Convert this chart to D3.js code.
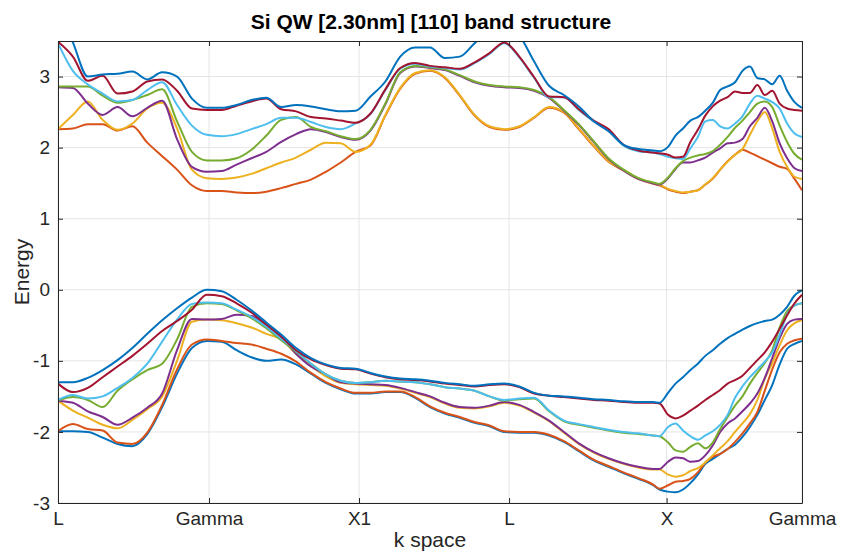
<!DOCTYPE html>
<html><head><meta charset="utf-8">
<script src="https://cdn.jsdelivr.net/npm/d3@7"></script>
<style>body{margin:0;background:#fff}svg{display:block}</style>
</head><body>
<svg id="chart" width="842" height="553"></svg>
<script>
// ---- data ----
const kGrid = [0,0.02,0.04,0.06,0.08,0.10,0.12,0.14,0.16,0.18,0.20,0.22,0.24,0.26,0.28,0.30,0.32,0.34,0.36,0.38,0.40,
  0.42,0.44,0.46,0.48,0.50,0.52,0.54,0.56,0.58,0.60,0.62,0.64,0.66,0.68,0.70,0.72,0.74,0.76,0.78,0.80,0.8085,
  0.82,0.83,0.84,0.85,0.86,0.87,0.88,0.89,0.90,0.91,0.92,0.93,0.94,0.95,0.96,0.97,0.98,0.99,1.0];
const kTickPos = [0, 0.2030, 0.4046, 0.6063, 0.8180, 1.0];
const kTickLabels = ["L","Gamma","X1","L","X","Gamma"];
const energyTicks = [-3,-2,-1,0,1,2,3];
const energyRange = [-3, 3.5];

// valence bands (lowest first)
const band01 = [-1.99,-1.99,-2.00,-2.08,-2.17,-2.20,-2.03,-1.65,-1.18,-0.82,-0.72,
  -0.73,-0.85,-0.95,-1.00,-0.98,-1.05,-1.18,-1.31,-1.40,-1.46,
  -1.46,-1.44,-1.44,-1.52,-1.65,-1.74,-1.80,-1.87,-1.92,-2.00,
  -2.01,-2.01,-2.05,-2.14,-2.27,-2.40,-2.49,-2.58,-2.66,-2.75,-2.81,
  -2.84,-2.85,-2.81,-2.72,-2.60,-2.45,-2.38,-2.31,-2.24,
  -2.18,-2.07,-1.93,-1.76,-1.55,-1.34,-1.05,-0.83,-0.76,-0.72];
const band02 = [-1.99,-1.89,-1.96,-1.98,-2.15,-2.17,-2.01,-1.62,-1.12,-0.77,-0.70,
  -0.72,-0.75,-0.77,-0.83,-0.90,-1.01,-1.17,-1.30,-1.39,-1.45,
  -1.45,-1.43,-1.43,-1.51,-1.64,-1.73,-1.79,-1.86,-1.91,-1.99,
  -2.00,-2.00,-2.04,-2.13,-2.26,-2.39,-2.48,-2.57,-2.65,-2.74,-2.80,
  -2.75,-2.70,-2.69,-2.66,-2.57,-2.43,-2.35,-2.31,-2.24,
  -2.14,-2.02,-1.88,-1.72,-1.42,-1.12,-0.88,-0.76,-0.71,-0.69];
const band03 = [-1.56,-1.70,-1.80,-1.90,-1.95,-1.83,-1.68,-1.50,-1.00,-0.45,-0.42,
  -0.43,-0.47,-0.53,-0.62,-0.70,-0.90,-1.07,-1.22,-1.31,-1.33,
  -1.34,-1.35,-1.39,-1.45,-1.51,-1.60,-1.66,-1.67,-1.64,-1.59,
  -1.63,-1.73,-1.85,-2.01,-2.17,-2.29,-2.38,-2.45,-2.50,-2.53,-2.53,
  -2.60,-2.63,-2.61,-2.55,-2.51,-2.43,-2.33,-2.23,-2.13,
  -2.00,-1.88,-1.75,-1.55,-1.25,-1.03,-0.78,-0.57,-0.47,-0.43];
const band04 = [-1.56,-1.59,-1.71,-1.79,-1.90,-1.80,-1.66,-1.46,-0.85,-0.41,-0.42,
  -0.41,-0.35,-0.37,-0.50,-0.66,-0.90,-1.08,-1.19,-1.30,-1.32,
  -1.33,-1.34,-1.38,-1.44,-1.50,-1.59,-1.65,-1.66,-1.63,-1.58,
  -1.62,-1.72,-1.84,-2.00,-2.16,-2.28,-2.37,-2.44,-2.49,-2.52,-2.52,
  -2.42,-2.36,-2.37,-2.42,-2.41,-2.33,-2.19,-2.00,-1.88,
  -1.81,-1.71,-1.60,-1.46,-1.24,-0.96,-0.68,-0.48,-0.42,-0.41];
const band05 = [-1.56,-1.51,-1.55,-1.65,-1.42,-1.26,-1.13,-1.04,-0.70,-0.24,-0.19,
  -0.20,-0.29,-0.40,-0.54,-0.71,-0.87,-1.04,-1.19,-1.28,-1.31,
  -1.30,-1.28,-1.29,-1.30,-1.33,-1.37,-1.39,-1.42,-1.50,-1.56,
  -1.54,-1.53,-1.71,-1.85,-1.90,-1.94,-1.98,-2.01,-2.03,-2.05,-2.06,
  -2.15,-2.26,-2.28,-2.21,-2.16,-2.23,-2.15,-1.96,-1.79,
  -1.63,-1.50,-1.32,-1.17,-1.03,-0.85,-0.53,-0.30,-0.22,-0.19];
const band06 = [-1.55,-1.48,-1.53,-1.50,-1.38,-1.24,-1.04,-0.73,-0.42,-0.20,-0.18,
  -0.19,-0.28,-0.38,-0.52,-0.69,-0.86,-1.04,-1.19,-1.28,-1.31,
  -1.30,-1.28,-1.29,-1.30,-1.33,-1.37,-1.39,-1.42,-1.50,-1.55,
  -1.53,-1.52,-1.70,-1.84,-1.89,-1.93,-1.97,-2.00,-2.02,-2.05,-2.06,
  -1.93,-1.88,-1.98,-2.06,-2.11,-2.05,-1.99,-1.90,-1.76,
  -1.52,-1.36,-1.23,-1.12,-1.01,-0.88,-0.63,-0.35,-0.22,-0.19];
const band07 = [-1.32,-1.44,-1.38,-1.23,-1.08,-0.93,-0.76,-0.58,-0.44,-0.28,-0.07,
  -0.09,-0.19,-0.32,-0.49,-0.66,-0.85,-0.98,-1.06,-1.11,-1.12,
  -1.18,-1.23,-1.26,-1.27,-1.29,-1.32,-1.34,-1.36,-1.34,-1.33,
  -1.37,-1.46,-1.49,-1.51,-1.53,-1.55,-1.56,-1.58,-1.59,-1.59,-1.60,
  -1.76,-1.81,-1.77,-1.70,-1.63,-1.55,-1.48,-1.41,-1.32,
  -1.27,-1.21,-1.10,-0.99,-0.88,-0.73,-0.55,-0.36,-0.19,-0.07];
const band08 = [-1.30,-1.30,-1.24,-1.13,-0.99,-0.82,-0.62,-0.43,-0.26,-0.11,0.00,
  -0.02,-0.14,-0.29,-0.46,-0.63,-0.82,-0.96,-1.05,-1.10,-1.11,
  -1.17,-1.22,-1.25,-1.26,-1.28,-1.31,-1.33,-1.35,-1.33,-1.32,
  -1.36,-1.45,-1.49,-1.50,-1.52,-1.54,-1.55,-1.57,-1.58,-1.58,-1.59,
  -1.45,-1.32,-1.23,-1.13,-1.04,-0.93,-0.85,-0.76,-0.68,
  -0.62,-0.56,-0.51,-0.47,-0.44,-0.42,-0.35,-0.24,-0.08,-0.01];
// conduction bands (lowest first)
const band09 = [2.26,2.27,2.33,2.33,2.24,2.30,2.07,1.88,1.69,1.47,1.39,
  1.39,1.37,1.36,1.38,1.43,1.49,1.55,1.66,1.79,1.94,
  2.03,2.45,2.83,3.04,3.08,2.98,2.73,2.45,2.29,2.25,
  2.29,2.42,2.56,2.49,2.26,2.02,1.80,1.68,1.56,1.49,1.47,
  1.41,1.38,1.36,1.38,1.40,1.48,1.56,1.69,1.81,
  1.90,1.97,1.93,1.88,1.83,1.78,1.73,1.70,1.56,1.40];
const band10 = [2.26,2.46,2.65,2.39,2.25,2.34,2.55,2.63,2.27,1.69,1.57,
  1.56,1.58,1.63,1.71,1.79,1.86,1.97,2.07,2.06,1.94,
  2.04,2.46,2.84,3.05,3.09,2.99,2.74,2.46,2.30,2.26,
  2.30,2.43,2.57,2.50,2.27,2.03,1.81,1.69,1.57,1.50,1.48,
  1.42,1.39,1.37,1.38,1.40,1.48,1.57,1.69,1.80,
  1.90,1.98,2.18,2.37,2.50,2.27,1.94,1.73,1.59,1.56];
const band11 = [2.85,2.84,2.62,2.46,2.57,2.44,2.56,2.66,2.12,1.73,1.66,
  1.67,1.76,1.85,1.94,2.08,2.19,2.26,2.22,2.15,2.11,
  2.24,2.61,3.05,3.14,3.12,3.09,3.01,2.92,2.87,2.85,
  2.84,2.80,2.70,2.52,2.32,2.08,1.84,1.68,1.56,1.50,1.48,
  1.57,1.70,1.79,1.79,1.82,1.86,1.93,1.99,2.06,
  2.07,2.12,2.30,2.42,2.56,2.37,2.06,1.85,1.71,1.67];
const band12 = [2.86,2.86,2.86,2.73,2.63,2.67,2.74,2.82,2.37,1.94,1.82,
  1.82,1.85,1.97,2.17,2.39,2.43,2.29,2.23,2.16,2.12,
  2.25,2.62,3.06,3.15,3.13,3.10,3.02,2.93,2.88,2.86,
  2.85,2.81,2.71,2.53,2.33,2.09,1.85,1.69,1.57,1.51,1.49,
  1.58,1.71,1.81,1.86,1.89,1.91,1.95,2.04,2.15,
  2.28,2.38,2.50,2.62,2.65,2.57,2.31,2.08,1.91,1.83];
const band13 = [3.47,3.08,2.89,2.76,2.65,2.67,2.81,2.92,2.60,2.31,2.18,
  2.16,2.19,2.26,2.33,2.42,2.42,2.36,2.29,2.26,2.34,
  2.47,2.81,3.11,3.18,3.14,3.12,3.10,3.19,3.32,3.47,
  3.27,2.98,2.71,2.71,2.53,2.37,2.25,2.03,1.95,1.93,1.91,
  1.87,1.85,1.84,1.99,2.15,2.37,2.39,2.30,2.27,
  2.34,2.44,2.62,2.73,2.69,2.64,2.55,2.34,2.20,2.15];
const band14 = [3.49,3.28,2.94,3.01,2.76,2.79,2.93,2.96,2.80,2.55,2.53,
  2.53,2.59,2.65,2.69,2.54,2.51,2.43,2.41,2.38,2.35,
  2.48,2.82,3.12,3.19,3.15,3.13,3.11,3.20,3.33,3.48,
  3.28,2.99,2.72,2.71,2.54,2.38,2.26,2.04,1.96,1.93,1.92,
  1.90,1.86,1.87,2.08,2.25,2.45,2.58,2.66,2.71,
  2.79,2.77,2.77,2.88,2.74,2.80,2.62,2.55,2.53,2.52];
const band15 = [3.95,3.48,3.00,3.03,3.04,3.07,2.96,3.06,3.00,2.69,2.56,
  2.56,2.60,2.67,2.70,2.57,2.60,2.58,2.54,2.51,2.52,
  2.72,2.93,3.28,3.41,3.41,3.26,3.28,3.47,3.65,3.72,
  3.58,3.21,2.87,2.74,2.58,2.37,2.23,2.04,1.98,1.96,1.95,
  2.01,2.17,2.27,2.38,2.43,2.52,2.63,2.81,2.86,
  2.92,3.08,3.14,2.98,2.96,2.89,3.01,2.80,2.64,2.56];

const bands = [band01,band02,band03,band04,band05,band06,band07,band08,
               band09,band10,band11,band12,band13,band14,band15];
const colorOrder = ["#0072BD","#D95319","#EDB120","#7E2F8E","#77AC30","#4DBEEE","#A2142F"];
const titleText = "Si QW [2.30nm] [110] band structure";
const xLabelText = "k space";
const yLabelText = "Energy";

// ---- layout ----
const W = 842, H = 553;
const m = {left: 58, right: 842-802, top: 41, bottom: 553-503};
const svg = d3.select("#chart");
const iw = W - m.left - m.right, ih = H - m.top - m.bottom;
const x = d3.scaleLinear().domain([0,1]).range([m.left, m.left+iw]);
const y = d3.scaleLinear().domain(energyRange).range([m.top+ih, m.top]);
const font = "'Liberation Sans', Arial, Helvetica, sans-serif";
const axisColor = "#262626";

// grid
const grid = svg.append("g");
grid.selectAll("line.vx").data(kTickPos).join("line")
  .attr("x1", d=>x(d)).attr("x2", d=>x(d)).attr("y1", m.top).attr("y2", m.top+ih)
  .attr("stroke", "#e5e5e5").attr("stroke-width", 1);
grid.selectAll("line.hy").data(energyTicks).join("line")
  .attr("y1", d=>y(d)).attr("y2", d=>y(d)).attr("x1", m.left).attr("x2", m.left+iw)
  .attr("stroke", "#e5e5e5").attr("stroke-width", 1);

// clip
svg.append("clipPath").attr("id","clip").append("rect")
  .attr("x", m.left).attr("y", m.top).attr("width", iw).attr("height", ih);

const line = d3.line().x((d,i)=>x(kGrid[i])).y(d=>y(d)).curve(d3.curveMonotoneX);
svg.append("g").attr("clip-path","url(#clip)")
  .selectAll("path").data(bands).join("path")
  .attr("d", d=>line(d))
  .attr("fill","none")
  .attr("stroke", (d,i)=>colorOrder[i % colorOrder.length])
  .attr("stroke-width", 2)
  .attr("stroke-linejoin","round");

// axes (MATLAB style box, ticks inward)
const tickLen = 5;
const axB = d3.axisBottom(x).tickValues(kTickPos).tickFormat((d,i)=>kTickLabels[i]).tickSizeInner(-tickLen).tickSizeOuter(0).tickPadding(9);
const axT = d3.axisTop(x).tickValues(kTickPos).tickFormat("").tickSizeInner(-tickLen).tickSizeOuter(0);
const axL = d3.axisLeft(y).tickValues(energyTicks).tickFormat(d3.format("d")).tickSizeInner(-tickLen).tickSizeOuter(0).tickPadding(8);
const axR = d3.axisRight(y).tickValues(energyTicks).tickFormat("").tickSizeInner(-tickLen).tickSizeOuter(0);

function style(g){
  g.select(".domain").attr("stroke", axisColor).attr("stroke-width", 1);
  g.selectAll(".tick line").attr("stroke", axisColor);
  g.selectAll(".tick text").attr("fill", axisColor).style("font-family", font).style("font-size","19px");
}
svg.append("g").attr("transform",`translate(0,${m.top+ih})`).call(axB).call(style);
svg.append("g").attr("transform",`translate(0,${m.top})`).call(axT).call(style);
svg.append("g").attr("transform",`translate(${m.left},0)`).call(axL).call(style);
svg.append("g").attr("transform",`translate(${m.left+iw},0)`).call(axR).call(style);
svg.selectAll("text").each(function(){ const t=d3.select(this); t.text(t.text().replace("\u2212","-")); });

// title and labels
svg.append("text").attr("x", m.left+iw/2+1).attr("y", 29).attr("text-anchor","middle")
  .style("font-family", font).style("font-size","21px").style("font-weight","bold").attr("fill","#000")
  .text(titleText);
svg.append("text").attr("x", m.left+iw/2).attr("y", 547).attr("text-anchor","middle")
  .style("font-family", font).style("font-size","21px").attr("fill",axisColor)
  .text(xLabelText);
svg.append("text").attr("transform",`translate(29,${m.top+ih/2}) rotate(-90)`).attr("text-anchor","middle")
  .style("font-family", font).style("font-size","21px").attr("fill",axisColor)
  .text(yLabelText);
</script>
</body></html>
